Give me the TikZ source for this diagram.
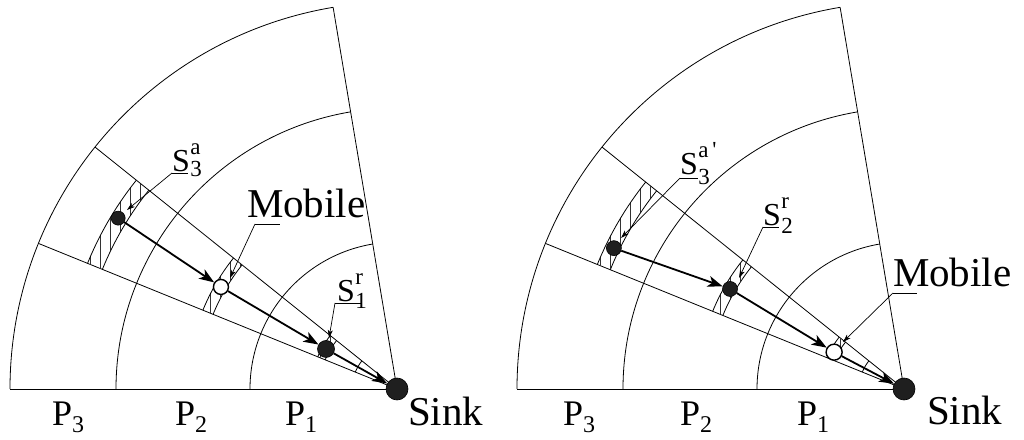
\documentclass[tikz,border=0pt]{standalone}
\usepackage{fontspec}
\setmainfont{Liberation Serif}
\usetikzlibrary{arrows.meta,calc}
\newcommand\slab[5]{\fontsize{32}{32}\selectfont #1\kern0.5pt\rlap{\raisebox{#4}{\fontsize{23}{23}\selectfont #2}}\raisebox{#5}{\fontsize{23}{23}\selectfont #3}}
\newcommand\plab[1]{\fontsize{36}{36}\selectfont P\raisebox{-7pt}{\fontsize{24}{24}\selectfont #1}}
\newcommand\bigtxt[1]{\fontsize{41}{41}\selectfont #1}
\newcommand\hband[3]{%
  \pgfmathsetmacro\rin{#2-#3}%
  \pgfmathsetmacro\rout{#2+#3}%
  \begin{scope}
    \clip ($(#1)+(141.3:\rin)$) arc[start angle=141.3,end angle=157.9,radius=\rin]
      -- ($(#1)+(157.9:\rout)$) arc[start angle=157.9,end angle=141.3,radius=\rout] -- cycle;
    \foreach \xx in {0,10,...,1020} \draw[hatch] (\xx,0) -- (\xx,439);
  \end{scope}
  \draw[sect] ($(#1)+(141.3:\rin)$) arc[start angle=141.3,end angle=157.9,radius=\rin];
  \draw[sect] ($(#1)+(141.3:\rout)$) arc[start angle=141.3,end angle=157.9,radius=\rout];
}
\tikzset{
  sect/.style={line width=0.8pt,black},
  hatch/.style={line width=0.6pt,black!80},
  main/.style={line width=1.8pt,-{Stealth[length=15pt,width=11pt,inset=4pt]}},
  lead/.style={line width=0.7pt,-{Stealth[length=8pt,width=5pt,inset=2pt]}},
  bdot/.style={circle,fill=black!88,draw=black,line width=0.6pt,inner sep=0pt},
  wdot/.style={circle,fill=white,draw=black,line width=1.4pt,inner sep=0pt},
  txt/.style={anchor=base west,inner sep=0pt,outer sep=0pt},
}
\begin{document}
\begin{tikzpicture}[x=1pt,y=1pt]
\useasboundingbox (0,0) rectangle (1024,439);
\fill[white] (0,0) rectangle (1024,439);
\coordinate (C1) at (397,50);
\coordinate (C2) at (904,50);
% sectors
\foreach \c in {C1,C2}{
  \draw[sect] (\c) -- ++(180:387);
  \draw[sect] (\c) -- ++(99.5:387);
  \draw[sect] (\c) -- ++(141.3:387);
  \draw[sect] (\c) -- ++(157.9:387);
  \foreach \r in {147,281,387}
    \draw[sect] ($(\c)+(99.5:\r)$) arc[start angle=99.5,end angle=180,radius=\r];
  \draw[sect] ($(\c)+(141.3:45)$) arc[start angle=141.3,end angle=157.9,radius=45];
}
% hatched bands
\hband{C1}{326}{8}
\hband{C1}{204}{5.5}
\hband{C1}{81.5}{4}
\hband{C2}{324}{7}
\hband{C2}{201}{5.5}
\hband{C2}{79}{4}
% nodes
\node[bdot,minimum size=14pt] (s3a) at ($(C1)+(148.5:327)$) {};
\node[wdot,minimum size=15pt] (mobL) at ($(C1)+(149.9:203.5)$) {};
\node[bdot,minimum size=17pt] (s1r) at ($(C1)+(150.6:81.5)$) {};
\node[bdot,minimum size=22pt] (sinkL) at (C1) {};
\node[bdot,minimum size=15pt] (s3ap) at ($(C2)+(154.1:322.5)$) {};
\node[bdot,minimum size=15pt] (s2r) at ($(C2)+(150.1:200.7)$) {};
\node[wdot,minimum size=16pt] (mobR) at ($(C2)+(152.2:79)$) {};
\node[bdot,minimum size=22pt] (sinkR) at (C2) {};
% main arrows
\draw[main] (s3a) -- (mobL);
\draw[main] (mobL) -- (s1r);
\draw[main] (s1r) -- (sinkL);
\draw[main] (s3ap) -- (s2r);
\draw[main] (s2r) -- (mobR);
\draw[main] (mobR) -- (sinkR);
% leaders
\coordinate (u1) at (172,266); \coordinate (u1e) at (188,266); \coordinate (t1) at (127,229);
\coordinate (u2) at (255,215); \coordinate (u2e) at (280,215); \coordinate (t2) at (230,161);
\coordinate (u3) at (335,136); \coordinate (u3e) at (361,136); \coordinate (t3) at (329,101);
\coordinate (u4) at (680,261); \coordinate (u4e) at (698,261); \coordinate (t4) at (621,201);
\coordinate (u5) at (763,212); \coordinate (u5e) at (779,212); \coordinate (t5) at (739,161);
\coordinate (u6) at (893,146); \coordinate (u6e) at (917,146); \coordinate (t6) at (843,97);
\foreach \i in {1,...,6}{
  \draw[sect] (u\i) -- (u\i e);
  \draw[lead] (u\i) -- (t\i);
}
% labels
\node[txt] (ls3a) at (172,267) {\slab{S}{3}{a}{-5pt}{17pt}};
\node[txt] (lmobL) at (247,221) {\bigtxt{Mobile}};
\node[txt] (ls1r) at (337,137) {\slab{S}{1}{r}{-7pt}{17pt}};
\node[txt] (lsinkL) at (408,14) {\bigtxt{Sink}};
\node[txt] (lp3L) at (52,14) {\plab{3}};
\node[txt] (lp2L) at (175,14) {\plab{2}};
\node[txt] (lp1L) at (285,14) {\plab{1}};
\node[txt] (ls3ap) at (680,264) {\slab{S}{3}{a\,\textquotesingle}{-10pt}{17pt}};
\node[txt] (ls2r) at (763,213) {\slab{S}{2}{r}{-8pt}{17pt}};
\node[txt] (lmobR) at (893,152) {\bigtxt{Mobile}};
\node[txt] (lsinkR) at (927,15) {\bigtxt{Sink}};
\node[txt] (lp3R) at (563,14) {\plab{3}};
\node[txt] (lp2R) at (680,14) {\plab{2}};
\node[txt] (lp1R) at (797,14) {\plab{1}};
\end{tikzpicture}
\end{document}
